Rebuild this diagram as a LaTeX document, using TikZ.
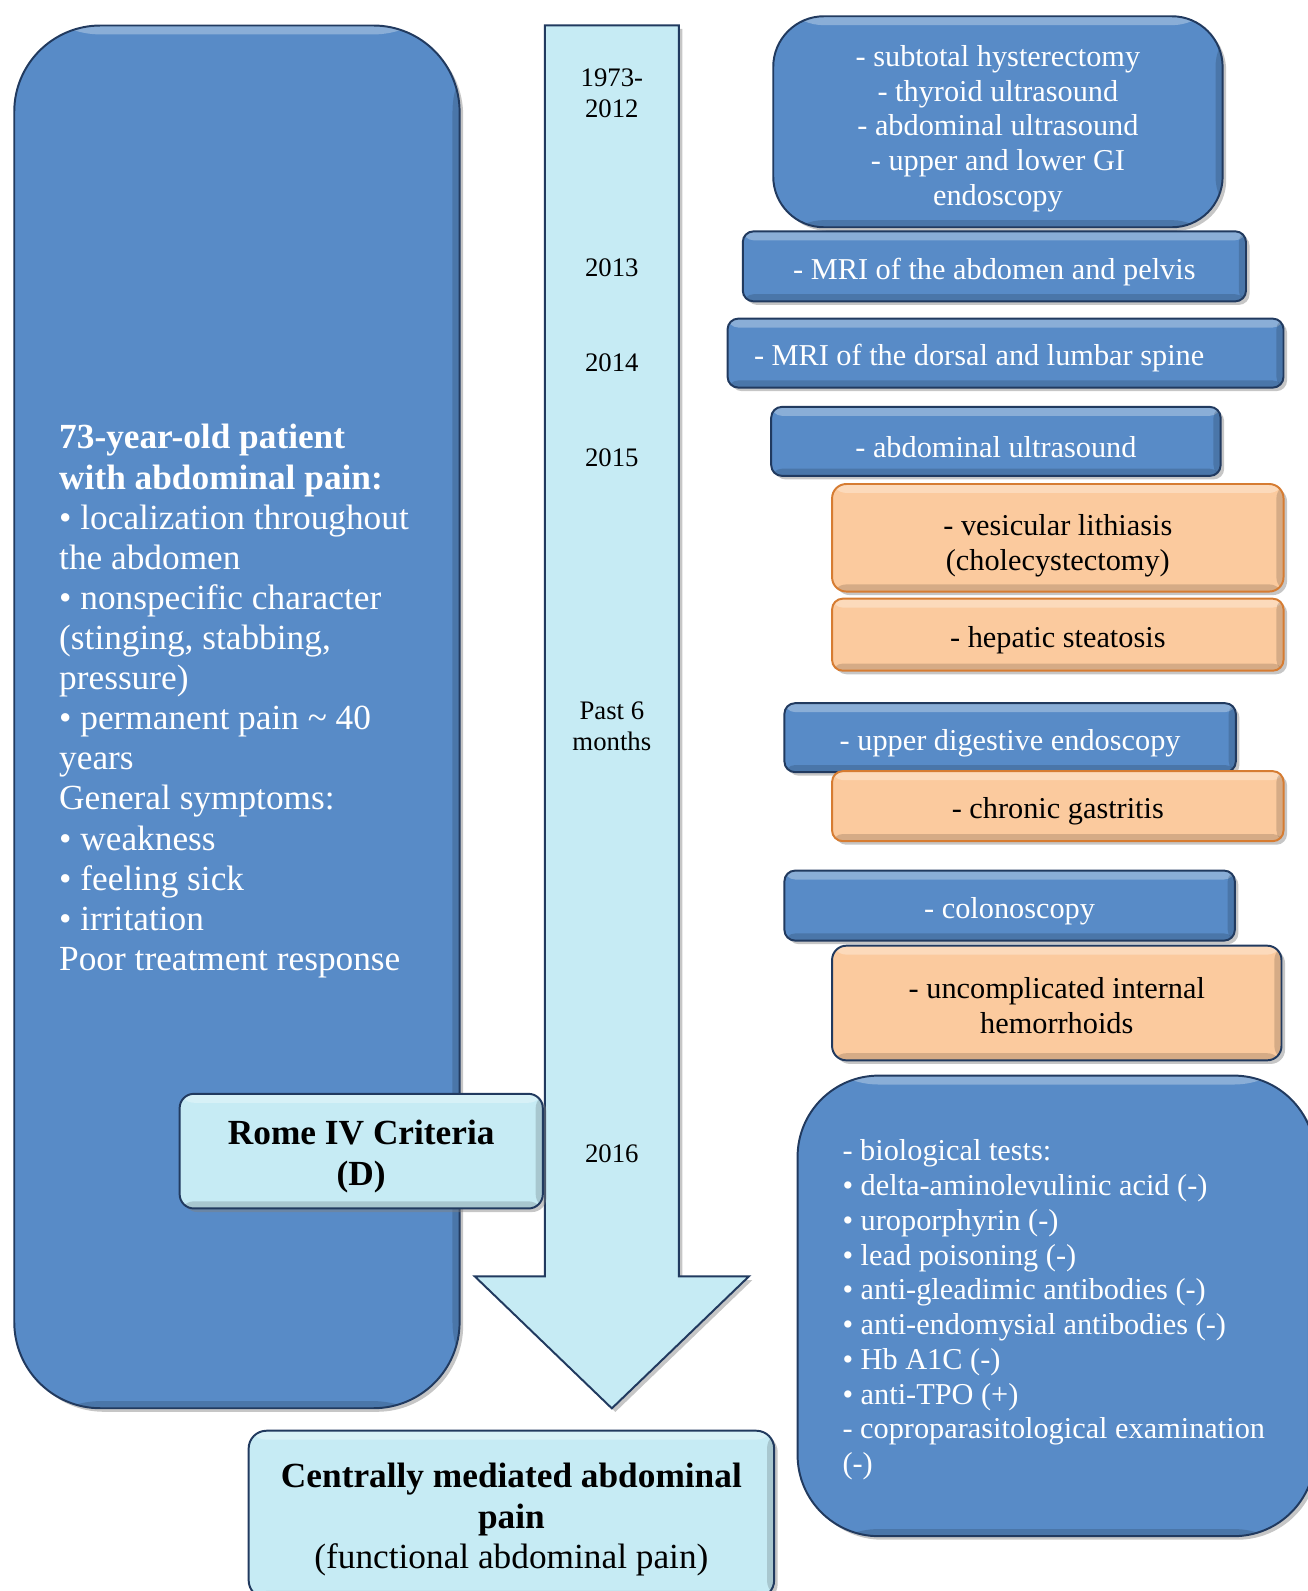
\documentclass[tikz,border=0pt]{standalone}
\usepackage{fontspec}
\setmainfont{Liberation Serif}
\usetikzlibrary{shadows}
\definecolor{testblue}{RGB}{88,139,199}
\definecolor{navyline}{RGB}{33,58,95}
\definecolor{paleblue}{RGB}{198,235,244}
\definecolor{peach}{RGB}{251,202,158}
\definecolor{peachline}{RGB}{214,124,50}
\newcommand{\topgap}[1]{\rule{0pt}{#1}}
\tikzset{
  bevel/.style={path picture={
      \fill[white,opacity=.3] (path picture bounding box.north west) rectangle ([yshift=-5pt]path picture bounding box.north east);
      \fill[black,opacity=.15] (path picture bounding box.south west) rectangle ([yshift=4pt]path picture bounding box.south east);
      \fill[black,opacity=.15] (path picture bounding box.north east) rectangle ([xshift=-4pt]path picture bounding box.south east);}},
  testbox/.style={rectangle, draw=navyline, line width=1.1pt, fill=testblue, text=white,
      rounded corners=6pt, drop shadow={shadow xshift=2pt,shadow yshift=-2pt,opacity=.45},
      bevel, align=center, inner sep=0pt, font=\fontsize{17}{19.5}\selectfont,
      execute at begin node={\rule{0pt}{1.06em}}},
  findbox/.style={testbox, fill=peach, draw=peachline, text=black},
  keybox/.style={testbox, fill=paleblue, text=black, font=\fontsize{19.8}{23}\selectfont},
  yearlbl/.style={align=center, font=\fontsize{15}{17.5}\selectfont},
  boxtext/.style={anchor=west, text=white, align=left, inner sep=0pt}
}

\begin{document}
\begin{tikzpicture}[x=0.02cm,y=-0.02cm]
    \useasboundingbox (0,0) rectangle (1289,1568);
    % patient
    \node[testbox, rounded corners=1.7cm, minimum width=8.78cm, minimum height=27.26cm] (patientbox) at (233.5,706.5) {};
    \node[boxtext, font=\fontsize{19.8}{22.5}\selectfont] (patient) at (58,691)
        {\textbf{73-year-old patient}\\ \textbf{with abdominal pain:}\\
         • localization throughout\\ the abdomen\\
         • nonspecific character\\ (stinging, stabbing,\\ pressure)\\
         • permanent pain \textasciitilde{} 40\\ years\\
         General symptoms:\\ • weakness\\ • feeling sick\\ • irritation\\
         Poor treatment response};
    % time line
    \draw[navyline, line width=1.1pt, fill=paleblue, drop shadow={shadow xshift=2pt,shadow yshift=-2pt,opacity=.45}]
        (537,25) -- (669,25) -- (669,1258) -- (738,1258) -- (603,1388) -- (468,1258) -- (537,1258) -- cycle;
    \node[yearlbl] (y1973) at (603,92) {1973-\\2012};
    \node[yearlbl] (y2013) at (603,264) {2013};
    \node[yearlbl] (y2014) at (603,357) {2014};
    \node[yearlbl] (y2015) at (603,451) {2015};
    \node[yearlbl] (ypast) at (603,716) {Past 6\\months};
    \node[yearlbl] (y2016) at (603,1137) {2016};
    % investigations and findings
    \node[testbox, rounded corners=1cm, minimum width=8.86cm, minimum height=4.16cm] (early) at (983.5,120)
        {\topgap{19.5pt}- subtotal hysterectomy\\ - thyroid ultrasound\\ - abdominal ultrasound\\ - upper and lower GI\\ endoscopy};
    \node[testbox, minimum width=9.92cm, minimum height=1.38cm] (mriabd) at (980,262.5) {- MRI of the abdomen and pelvis};
    \node[testbox, minimum width=10.96cm, minimum height=1.36cm] (mrispine) at (991,348)
        {\hspace*{-1.04cm}- MRI of the dorsal and lumbar spine};
    \node[testbox, minimum width=8.86cm, minimum height=1.36cm] (abdus) at (981.5,435) {- abdominal ultrasound};
    \node[findbox, rounded corners=8pt, minimum width=8.9cm, minimum height=2.12cm] (lithiasis) at (1042.5,530)
        {\topgap{20.5pt}- vesicular lithiasis\\ (cholecystectomy)};
    \node[findbox, minimum width=8.9cm, minimum height=1.42cm] (steatosis) at (1042.5,625.5) {- hepatic steatosis};
    \node[testbox, minimum width=8.9cm, minimum height=1.36cm] (upperendo) at (995.5,727) {- upper digestive endoscopy};
    \node[findbox, minimum width=8.9cm, minimum height=1.38cm] (gastritis) at (1042.5,794.5) {- chronic gastritis};
    \node[testbox, minimum width=8.88cm, minimum height=1.38cm] (colon) at (995,892.5) {- colonoscopy};
    \node[findbox, draw=navyline, rounded corners=8pt, minimum width=8.86cm, minimum height=2.26cm] (hemorrhoids) at (1041.5,988.5)
        {\topgap{15pt}- uncomplicated internal\\ hemorrhoids};
    \node[testbox, rounded corners=1.6cm, minimum width=10.2cm, minimum height=9.08cm] (biobox) at (1041,1287) {};
    \node[boxtext, font=\fontsize{17}{19.5}\selectfont] (bio) at (830,1291)
        {- biological tests:\\ • delta-aminolevulinic acid (-)\\ • uroporphyrin (-)\\ • lead poisoning (-)\\
         • anti-gleadimic antibodies (-)\\ • anti-endomysial antibodies (-)\\ • Hb A1C (-)\\ • anti-TPO (+)\\
         - coproparasitological examination\\ (-)};
    % diagnosis
    \node[keybox, rounded corners=8pt, minimum width=7.16cm, minimum height=2.26cm] (rome) at (356,1134.5)
        {\topgap{20.3pt}\textbf{Rome IV Criteria}\\ \textbf{(D)}};
    \node[keybox, rounded corners=10pt, minimum width=10.36cm, minimum height=3.3cm,
          font=\fontsize{19.8}{22.5}\selectfont] (central) at (504,1492.5)
        {\topgap{19.5pt}\textbf{Centrally mediated abdominal}\\ \textbf{pain}\\ (functional abdominal pain)};
\end{tikzpicture}
\end{document}
